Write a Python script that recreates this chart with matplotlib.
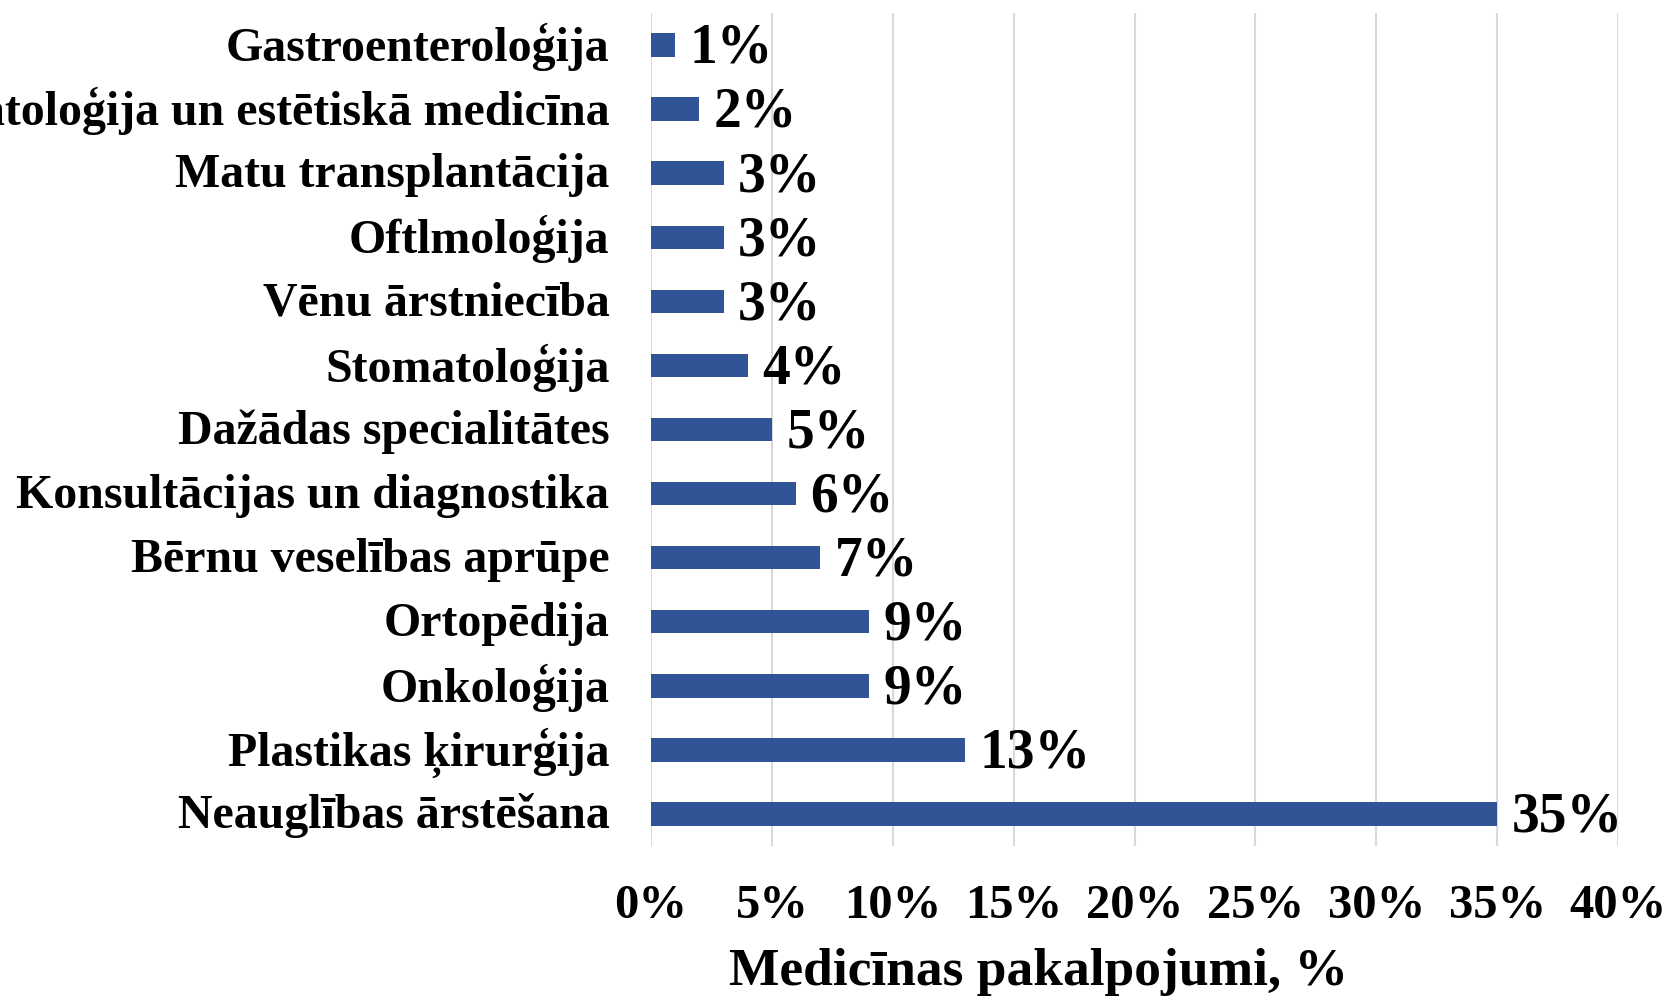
import matplotlib.pyplot as plt
import matplotlib.transforms as mtransforms
import numpy as np

# kategorijas (no augšas uz leju) un vērtības, %
categories = ["Gastroenteroloģija", "Dermatoloģija un estētiskā medicīna",
              "Matu transplantācija", "Oftlmoloģija", "Vēnu ārstniecība",
              "Stomatoloģija", "Dažādas specialitātes",
              "Konsultācijas un diagnostika", "Bērnu veselības aprūpe",
              "Ortopēdija", "Onkoloģija", "Plastikas ķirurģija",
              "Neauglības ārstēšana"]
values = [1, 2, 3, 3, 3, 4, 5, 6, 7, 9, 9, 13, 35]
x_ticks = [0, 5, 10, 15, 20, 25, 30, 35, 40]

plt.rcParams['font.family'] = ['Liberation Serif', 'DejaVu Serif']
plt.rcParams['font.weight'] = 'bold'

fig = plt.figure(figsize=(16.67, 10), dpi=100)
ax = fig.add_axes([651/1667, 1-846/1000, (1618-651)/1667, 833/1000])

y = np.arange(len(categories))
ax.barh(y, values, height=0.365, color="#2F5597", zorder=3)
for yi, v in zip(y, values):
    ax.text(v + 0.6, yi + 0.06, f"{v}%", va="center", ha="left",
            fontsize=40, fontweight="bold", zorder=4)

ax.set_ylim(len(categories) - 0.5, -0.5)
ax.set_xlim(0, 40)
ax.set_yticks(y)
ax.set_yticklabels(categories, fontsize=34.5, fontweight="bold")
ax.set_xticks(x_ticks)
ax.set_xticklabels([f"{t}%" for t in x_ticks], fontsize=35, fontweight="bold")
ax.tick_params(axis='y', length=0, pad=30)
ax.tick_params(axis='x', length=0, pad=27)

# kategoriju nosaukumus mazliet uz augšu
shift = mtransforms.ScaledTranslation(0, 3/100, fig.dpi_scale_trans)
for lab in ax.get_yticklabels():
    lab.set_transform(lab.get_transform() + shift)

ax.grid(True, axis='x', color="#D9D9D9", linewidth=1.5, zorder=0)
for s in ax.spines.values():
    s.set_visible(False)

# ass nosaukums (Excel to centrē nedaudz pa kreisi)
fig.text(1038/1667, 0.028, "Medicīnas pakalpojumi, %", fontsize=38.5,
         fontweight="bold", ha="center", va="center")

fig.savefig("out.png", dpi=100)
